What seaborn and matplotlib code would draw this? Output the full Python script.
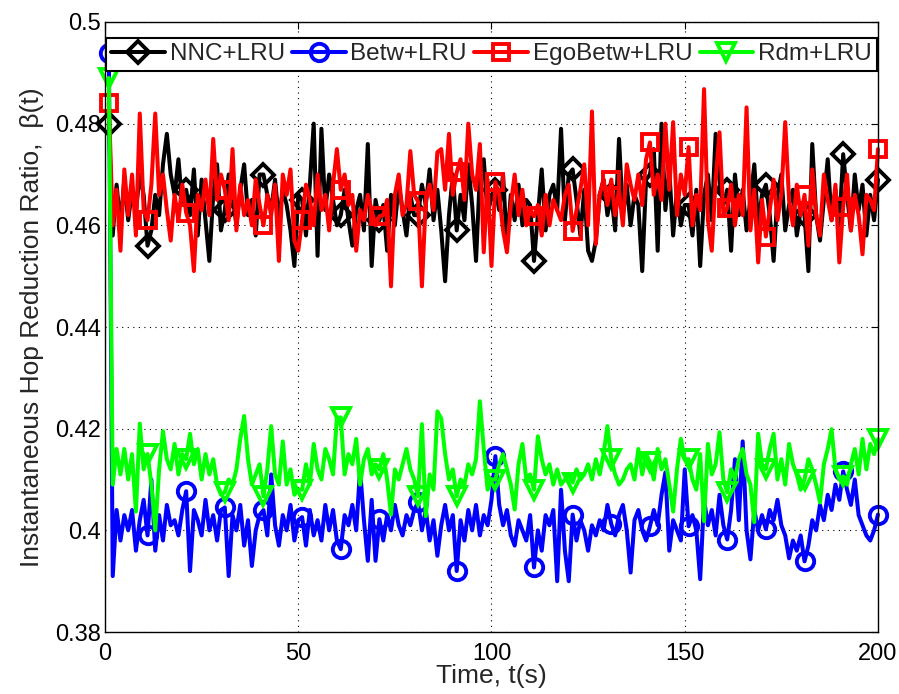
import numpy as np
import pandas as pd
import matplotlib
matplotlib.use("Agg")
import matplotlib.pyplot as plt
import seaborn as sns

t = list(range(1, 201))

nnc = [0.480, 0.458, 0.468, 0.460, 0.469, 0.461, 0.467, 0.463, 0.470, 0.466,
       0.456, 0.459, 0.466, 0.462, 0.472, 0.478, 0.470, 0.466, 0.473, 0.464,
       0.467, 0.462, 0.471, 0.458, 0.469, 0.461, 0.453, 0.466, 0.472, 0.459,
       0.463, 0.470, 0.466, 0.460, 0.467, 0.472, 0.462, 0.465, 0.458, 0.470,
       0.470, 0.466, 0.463, 0.469, 0.461, 0.467, 0.464, 0.459, 0.452, 0.466,
       0.465, 0.458, 0.468, 0.480, 0.454, 0.479, 0.463, 0.470, 0.465, 0.460,
       0.462, 0.467, 0.461, 0.456, 0.463, 0.466, 0.459, 0.476, 0.452, 0.465,
       0.461, 0.464, 0.455, 0.466, 0.460, 0.468, 0.463, 0.458, 0.466, 0.462,
       0.462, 0.468, 0.464, 0.471, 0.461, 0.467, 0.459, 0.449, 0.462, 0.470,
       0.459, 0.466, 0.461, 0.472, 0.464, 0.453, 0.470, 0.473, 0.462, 0.466,
       0.467, 0.463, 0.470, 0.456, 0.466, 0.461, 0.468, 0.460, 0.465, 0.464,
       0.453, 0.462, 0.471, 0.459, 0.466, 0.468, 0.463, 0.479, 0.461, 0.470,
       0.471, 0.465, 0.458, 0.467, 0.455, 0.453, 0.457, 0.466, 0.469, 0.462,
       0.466, 0.459, 0.477, 0.462, 0.468, 0.460, 0.466, 0.464, 0.451, 0.469,
       0.470, 0.475, 0.455, 0.480, 0.463, 0.471, 0.458, 0.467, 0.460, 0.464,
       0.464, 0.458, 0.467, 0.452, 0.466, 0.470, 0.461, 0.478, 0.469, 0.464,
       0.467, 0.455, 0.470, 0.462, 0.467, 0.459, 0.465, 0.472, 0.460, 0.466,
       0.468, 0.462, 0.453, 0.466, 0.470, 0.459, 0.464, 0.467, 0.458, 0.463,
       0.462, 0.451, 0.476, 0.462, 0.457, 0.465, 0.473, 0.461, 0.467, 0.460,
       0.474, 0.466, 0.459, 0.470, 0.463, 0.468, 0.458, 0.466, 0.461, 0.469]

betw = [0.494, 0.391, 0.404, 0.398, 0.403, 0.400, 0.404, 0.396, 0.402, 0.406,
        0.399, 0.410, 0.396, 0.403, 0.398, 0.405, 0.401, 0.402, 0.399, 0.404,
        0.4077, 0.392, 0.404, 0.402, 0.399, 0.406, 0.400, 0.403, 0.398, 0.404,
        0.4045, 0.391, 0.403, 0.400, 0.405, 0.397, 0.402, 0.393, 0.400, 0.403,
        0.404, 0.399, 0.411, 0.401, 0.397, 0.403, 0.400, 0.405, 0.398, 0.402,
        0.4026, 0.397, 0.404, 0.399, 0.402, 0.398, 0.405, 0.400, 0.404, 0.398,
        0.3963, 0.403, 0.401, 0.405, 0.400, 0.412, 0.402, 0.394, 0.406, 0.394,
        0.4022, 0.398, 0.403, 0.400, 0.405, 0.401, 0.399, 0.403, 0.401, 0.404,
        0.4055, 0.400, 0.404, 0.398, 0.402, 0.395, 0.401, 0.405, 0.400, 0.403,
        0.392, 0.402, 0.398, 0.404, 0.400, 0.405, 0.399, 0.403, 0.401, 0.406,
        0.4146, 0.405, 0.401, 0.404, 0.399, 0.397, 0.402, 0.400, 0.398, 0.403,
        0.3927, 0.400, 0.396, 0.403, 0.401, 0.404, 0.390, 0.408, 0.396, 0.390,
        0.4031, 0.398, 0.402, 0.400, 0.396, 0.401, 0.399, 0.402, 0.400, 0.405,
        0.4012, 0.399, 0.403, 0.405, 0.400, 0.3917, 0.402, 0.404, 0.400, 0.398,
        0.4008, 0.404, 0.401, 0.407, 0.4114, 0.396, 0.402, 0.400, 0.398, 0.412,
        0.4008, 0.403, 0.400, 0.3904, 0.406, 0.401, 0.404, 0.399, 0.407, 0.401,
        0.3982, 0.404, 0.414, 0.402, 0.4175, 0.400, 0.3943, 0.404, 0.400, 0.403,
        0.4002, 0.404, 0.402, 0.406, 0.401, 0.399, 0.3945, 0.398, 0.396, 0.399,
        0.3939, 0.397, 0.402, 0.400, 0.405, 0.402, 0.407, 0.404, 0.409, 0.406,
        0.4116, 0.408, 0.405, 0.410, 0.403, 0.401, 0.399, 0.398, 0.400, 0.4031]

egobetw = [0.484, 0.460, 0.467, 0.455, 0.471, 0.462, 0.470, 0.458, 0.482, 0.463,
           0.461, 0.468, 0.482, 0.466, 0.470, 0.463, 0.457, 0.466, 0.461, 0.468,
           0.4625, 0.460, 0.451, 0.466, 0.463, 0.469, 0.462, 0.477, 0.465, 0.470,
           0.467, 0.461, 0.475, 0.459, 0.468, 0.462, 0.465, 0.460, 0.469, 0.464,
           0.460, 0.466, 0.462, 0.468, 0.453, 0.470, 0.466, 0.471, 0.457, 0.455,
           0.461, 0.468, 0.465, 0.460, 0.470, 0.463, 0.466, 0.459, 0.468, 0.475,
           0.467, 0.470, 0.464, 0.466, 0.455, 0.463, 0.461, 0.466, 0.463, 0.460,
           0.4618, 0.462, 0.465, 0.448, 0.466, 0.470, 0.462, 0.464, 0.4746, 0.466,
           0.4647, 0.448, 0.465, 0.468, 0.463, 0.4744, 0.475, 0.467, 0.478, 0.466,
           0.4704, 0.473, 0.465, 0.480, 0.470, 0.467, 0.476, 0.4547, 0.469, 0.452,
           0.4685, 0.466, 0.459, 0.4547, 0.464, 0.470, 0.462, 0.467, 0.460, 0.463,
           0.4618, 0.464, 0.458, 0.466, 0.460, 0.465, 0.463, 0.461, 0.466, 0.468,
           0.4589, 0.463, 0.467, 0.472, 0.460, 0.4824, 0.4563, 0.466, 0.469, 0.464,
           0.469, 0.462, 0.467, 0.460, 0.472, 0.468, 0.465, 0.470, 0.464, 0.473,
           0.4763, 0.466, 0.470, 0.465, 0.480, 0.467, 0.4803, 0.462, 0.470, 0.466,
           0.4754, 0.460, 0.466, 0.463, 0.4868, 0.461, 0.455, 0.469, 0.4783, 0.462,
           0.4635, 0.468, 0.460, 0.466, 0.462, 0.4832, 0.459, 0.467, 0.4527, 0.465,
           0.4578, 0.463, 0.469, 0.461, 0.466, 0.4803, 0.465, 0.460, 0.468, 0.462,
           0.466, 0.456, 0.471, 0.462, 0.458, 0.470, 0.465, 0.461, 0.468, 0.4527,
           0.4637, 0.470, 0.459, 0.466, 0.462, 0.4543, 0.466, 0.465, 0.463, 0.475]

rdm = [0.489, 0.409, 0.416, 0.411, 0.416, 0.410, 0.415, 0.4037, 0.421, 0.412,
       0.415, 0.409, 0.400, 0.412, 0.4195, 0.414, 0.412, 0.417, 0.411, 0.415,
       0.414, 0.419, 0.413, 0.416, 0.410, 0.415, 0.411, 0.414, 0.409, 0.407,
       0.4075, 0.410, 0.409, 0.412, 0.418, 0.4225, 0.414, 0.409, 0.411, 0.413,
       0.4067, 0.412, 0.4205, 0.411, 0.409, 0.4175, 0.409, 0.412, 0.407, 0.408,
       0.408, 0.413, 0.409, 0.417, 0.412, 0.410, 0.416, 0.414, 0.411, 0.4222,
       0.4222, 0.411, 0.415, 0.413, 0.418, 0.409, 0.414, 0.416, 0.411, 0.413,
       0.412, 0.415, 0.410, 0.4031, 0.412, 0.410, 0.413, 0.416, 0.412, 0.410,
       0.4067, 0.4209, 0.4028, 0.411, 0.408, 0.4234, 0.422, 0.415, 0.410, 0.412,
       0.4067, 0.410, 0.409, 0.413, 0.411, 0.414, 0.4254, 0.416, 0.408, 0.410,
       0.410, 0.413, 0.415, 0.412, 0.409, 0.4041, 0.413, 0.417, 0.410, 0.411,
       0.408, 0.4185, 0.414, 0.411, 0.413, 0.409, 0.412, 0.409, 0.410, 0.411,
       0.4094, 0.412, 0.410, 0.411, 0.413, 0.410, 0.414, 0.411, 0.415, 0.4205,
       0.414, 0.411, 0.409, 0.410, 0.412, 0.413, 0.410, 0.416, 0.411, 0.415,
       0.4134, 0.410, 0.416, 0.412, 0.414, 0.409, 0.4037, 0.412, 0.418, 0.414,
       0.414, 0.410, 0.408, 0.415, 0.4018, 0.417, 0.411, 0.413, 0.4193, 0.410,
       0.4075, 0.412, 0.410, 0.414, 0.416, 0.411, 0.409, 0.4016, 0.419, 0.413,
       0.412, 0.416, 0.419, 0.410, 0.414, 0.409, 0.417, 0.413, 0.411, 0.408,
       0.410, 0.414, 0.412, 0.409, 0.4055, 0.413, 0.416, 0.4199, 0.412, 0.410,
       0.4106, 0.409, 0.413, 0.416, 0.411, 0.418, 0.412, 0.417, 0.415, 0.4179]

labels = ["NNC+LRU", "Betw+LRU", "EgoBetw+LRU", "Rdm+LRU"]
xticks = [0, 50, 100, 150, 200]
yticks = [0.38, 0.40, 0.42, 0.44, 0.46, 0.48, 0.50]
ytick_labels = ["0.38", "0.4", "0.42", "0.44", "0.46", "0.48", "0.5"]

sns.set_style("white")
plt.rcParams['font.family'] = ['Liberation Sans', 'DejaVu Sans']

fig = plt.figure(figsize=(8.99, 6.94), dpi=100)
ax = fig.add_axes([0.1168, 0.0893, 0.8598, 0.8790])

series = [(nnc, labels[0], "black", "D", 11),
          (betw, labels[1], "#0000ff", "o", 12.5),
          (egobetw, labels[2], "#ff0000", "s", 11),
          (rdm, labels[3], "#00ff00", "v", 13.5)]
mk_idx = list(range(0, 200, 10)) + [199]
for vals, lab, col, mk, ms in series:
    df = pd.DataFrame({"t": t, "v": vals})
    sns.lineplot(data=df, x="t", y="v", ax=ax, color=col, linewidth=2.9,
                 marker=mk, markersize=ms, markeredgewidth=2.8,
                 markerfacecolor="none", markeredgecolor=col,
                 markevery=mk_idx, label=lab, clip_on=False)

ax.set_xlim(0, 200)
ax.set_ylim(0.38, 0.5)
ax.set_xticks(xticks)
ax.set_xticklabels([str(x) for x in xticks])
ax.set_yticks(yticks)
ax.set_yticklabels(ytick_labels)
ax.grid(True, color="black", linestyle=(0, (1, 4)), linewidth=0.8)
ax.tick_params(direction="in", length=5, width=0.8, top=True, right=True,
               labelsize=17, colors="black")
ax.tick_params(axis="x", pad=8)
ax.tick_params(axis="y", pad=3)
for sp in ax.spines.values():
    sp.set_color("black")
    sp.set_linewidth(1.0)
ax.set_xlabel("Time, t(s)", fontsize=19, labelpad=-1)
ax.set_ylabel("Instantaneous Hop Reduction Ratio,  \u03b2(t)", fontsize=19, labelpad=8)

leg = ax.legend(loc="upper center", bbox_to_anchor=(0.5, 0.974), ncol=4,
                fontsize=17.5, frameon=True, fancybox=False, handlelength=2.2,
                handletextpad=0.2, columnspacing=0.3, borderpad=0.22,
                borderaxespad=0.0)
leg.get_frame().set_edgecolor("black")
leg.get_frame().set_linewidth(1.5)
leg.get_frame().set_alpha(1)
leg.set_zorder(10)

fig.savefig("out.png", dpi=100)
